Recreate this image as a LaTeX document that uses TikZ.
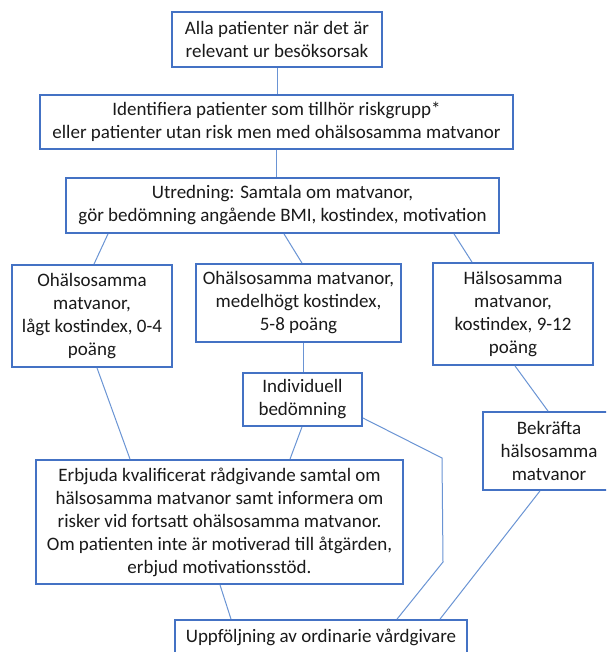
\documentclass[tikz,border=0pt]{standalone}
\usepackage{fontspec}
\setmainfont{Carlito}
\definecolor{boxblue}{HTML}{4472C4}
\definecolor{lineblue}{HTML}{6A94D4}
\definecolor{txt}{HTML}{1A1A1A}
\begin{document}
\begin{tikzpicture}[x=1pt,y=-1pt,
  box/.style={draw=boxblue,line width=1.8pt,fill=white,align=center,text=txt,
    font=\fontsize{19}{23}\selectfont,inner sep=0pt},
  conn/.style={draw=lineblue,line width=1pt}]
\clip (0,0) rectangle (606,652);
\fill[white] (0,0) rectangle (606,652);
\node[box,minimum width=210pt,minimum height=55pt] (b1) at (277,39.5) {Alla patienter när det är\\relevant ur besöksorsak};
\node[box,minimum width=473pt,minimum height=54pt] (b2) at (276.5,122) {Identifiera patienter som tillhör riskgrupp*\\eller patienter utan risk men med ohälsosamma matvanor};
\node[box,minimum width=433pt,minimum height=55pt] (b3) at (282.5,205.5) {Utredning: Samtala om matvanor,\\gör bedömning angående BMI, kostindex, motivation};
\node[box,minimum width=160pt,minimum height=102pt] (b4) at (92,316) {Ohälsosamma\\matvanor,\\lågt kostindex, 0-4\\poäng};
\node[box,minimum width=205pt,minimum height=78pt] (b5) at (298.5,303) {Ohälsosamma matvanor,\\medelhögt kostindex,\\5-8 poäng};
\node[box,minimum width=160pt,minimum height=102pt] (b6) at (513,314) {Hälsosamma\\matvanor,\\kostindex, 9-12\\poäng};
\node[box,minimum width=119pt,minimum height=53pt] (b7) at (302.5,399.5) {Individuell\\bedömning};
\node[box,minimum width=132pt,minimum height=78pt] (b8) at (549,451) {Bekräfta\\hälsosamma\\matvanor};
\node[box,minimum width=367pt,minimum height=124pt] (b9) at (219.5,522) {Erbjuda kvalificerat rådgivande samtal om\\hälsosamma matvanor samt informera om\\risker vid fortsatt ohälsosamma matvanor.\\Om patienten inte är motiverad till åtgärden,\\erbjud motivationsstöd.};
\node[box,minimum width=292pt,minimum height=34pt] (b10) at (321,637) {Uppföljning av ordinarie vårdgivare};
\coordinate (k1) at (442,458);
\coordinate (k2) at (443,562);
\path[conn] (b1.south) -- (b1.south |- b2.north);
\path[conn] (b2.south) -- (b2.south |- b3.north);
\path[conn] ([xshift=-174.5pt]b3.south) -- ([xshift=2pt]b4.north);
\path[conn] ([xshift=1.5pt]b3.south) -- ([xshift=3.5pt]b5.north);
\path[conn] ([xshift=171.5pt]b3.south) -- ([xshift=-41pt]b6.north);
\path[conn] ([xshift=5pt]b4.south) -- ([xshift=-89.5pt]b9.north);
\path[conn] ([xshift=4.5pt]b5.south) -- ([xshift=0.5pt]b7.north);
\path[conn] ([xshift=-0.5pt]b7.south) -- ([xshift=70.5pt]b9.north);
\path[conn] ([yshift=-18.5pt]b7.east) -- (k1) -- (k2) -- ([xshift=76pt]b10.north);
\path[conn] ([xshift=2pt]b6.south) -- ([xshift=-1pt]b8.north);
\path[conn] ([xshift=-9pt]b8.south) -- ([xshift=119pt]b10.north);
\path[conn] ([xshift=0.5pt]b9.south) -- ([xshift=-90pt]b10.north);
\end{tikzpicture}
\end{document}
